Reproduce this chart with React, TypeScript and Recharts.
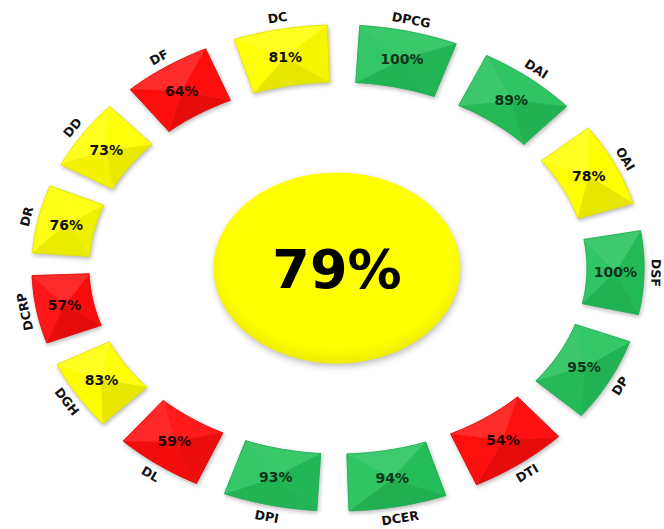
import React from 'react';
import { PieChart, Pie } from 'recharts';

// Scorecard ring: one tile per area, coloured by score, overall score in the middle
const categories = ['DPCG', 'DAI', 'OAI', 'DSF', 'DP', 'DTI', 'DCER', 'DPI', 'DL', 'DGH', 'DCRP', 'DR', 'DD', 'DF', 'DC'];
const scores = [100, 89, 78, 100, 95, 54, 94, 93, 59, 83, 57, 76, 73, 64, 81];
const slotWeights = [1, 1, 1, 1, 1, 1, 1, 1, 1, 1, 1, 1, 1, 1, 1];
const overallScore = 79;

const ringData = categories.map((name, i) => ({ name, score: scores[i], slot: slotWeights[i] }));
const overallData = [{ name: 'Overall', value: overallScore }];

const FONT = 'DejaVu Sans, Verdana, sans-serif';
const STRETCH = 63; // extra horizontal radius, turns the ring into an ellipse
const RAD = Math.PI / 180;

// slight angular skew, the tiles in the original sit a bit left of even spacing
const warp = (deg: number) => deg + 6 * Math.sin(deg * RAD);

const pt = (cx: number, cy: number, r: number, deg: number) => {
  const a = warp(deg) * RAD;
  return [cx + (r + STRETCH) * Math.cos(a), cy - r * Math.sin(a)];
};

const colorFor = (v: number) => (v >= 85 ? '#24c25b' : v >= 65 ? '#ffff00' : '#ff0d0d');
const textFor = (v: number) => (v >= 85 ? '#0d3518' : v >= 65 ? '#111' : '#2a0000');

const mix = (hex: string, target: number, t: number) => {
  const n = parseInt(hex.slice(1), 16);
  const ch = [(n >> 16) & 255, (n >> 8) & 255, n & 255].map((c) => Math.round(c + (target - c) * t));
  return `rgb(${ch[0]},${ch[1]},${ch[2]})`;
};

const shade = (hex: string, d: number) => (d >= 0 ? mix(hex, 255, 0.13 * d) : mix(hex, 0, -0.1 * d));

const poly = (pts: number[][]) => pts.map((p, i) => `${i ? 'L' : 'M'}${p[0].toFixed(1)},${p[1].toFixed(1)}`).join(' ') + ' Z';

function RingTile(props: any) {
  const { cx, cy, innerRadius, outerRadius, startAngle, endAngle, payload } = props;
  const N = 14;
  const outer: number[][] = [];
  const inner: number[][] = [];
  for (let k = 0; k <= N; k++) {
    const a = startAngle + ((endAngle - startAngle) * k) / N;
    outer.push(pt(cx, cy, outerRadius, a));
    inner.push(pt(cx, cy, innerRadius, a));
  }
  const mid = (startAngle + endAngle) / 2;
  const c = pt(cx, cy, (innerRadius + outerRadius) / 2, mid);
  const base = colorFor(payload.score);

  // bevel facets, lit from the upper left
  const L = [-0.45, -0.89];
  const facets = [
    [...outer, c],
    [...inner, c],
    [outer[0], inner[0], c],
    [outer[N], inner[N], c],
  ].map((f) => {
    const edge = f.slice(0, -1);
    const ex = edge.reduce((s, p) => s + p[0], 0) / edge.length;
    const ey = edge.reduce((s, p) => s + p[1], 0) / edge.length;
    const len = Math.hypot(ex - c[0], ey - c[1]) || 1;
    const d = ((ex - c[0]) * L[0] + (ey - c[1]) * L[1]) / len;
    return { d: poly(f), fill: shade(base, d) };
  });
  const outline = poly([...outer, ...inner.slice().reverse()]);

  // category name just outside the tile, following the ring
  const lr = outerRadius + 12;
  const lp = pt(cx, cy, lr, mid);
  const th = warp(mid) * RAD;
  let tx = (lr + STRETCH) * Math.sin(th);
  let ty = lr * Math.cos(th);
  if (Math.sin(th) < -0.3) {
    tx = -tx;
    ty = -ty;
  }
  const rot = (Math.atan2(ty, tx) * 180) / Math.PI;

  return (
    <g>
      <g style={{ filter: 'drop-shadow(1px 2px 2px rgba(0,0,0,0.28))' }}>
        {facets.map((f, i) => (
          <path key={i} d={f.d} fill={f.fill} stroke={f.fill} strokeWidth={0.6} />
        ))}
        <path d={outline} fill="none" stroke={mix(base, 0, 0.12)} strokeWidth={0.8} />
      </g>
      <text x={c[0]} y={c[1]} textAnchor="middle" dominantBaseline="central" fontFamily={FONT} fontWeight="bold" fontSize={14} fill={textFor(payload.score)}>
        {payload.score}%
      </text>
      <text
        x={lp[0]}
        y={lp[1]}
        textAnchor="middle"
        dominantBaseline="central"
        fontFamily={FONT}
        fontWeight="bold"
        fontSize={12.5}
        fill="#111"
        transform={`rotate(${rot.toFixed(1)} ${lp[0].toFixed(1)} ${lp[1].toFixed(1)})`}
      >
        {payload.name}
      </text>
    </g>
  );
}

function OverallBadge(props: any) {
  const { cx, cy, outerRadius, payload } = props;
  return (
    <g>
      <defs>
        <radialGradient id="badgeFill" cx="50%" cy="45%" r="55%">
          <stop offset="0.85" stopColor="#ffff00" />
          <stop offset="1" stopColor="#eded00" />
        </radialGradient>
      </defs>
      <ellipse
        cx={cx}
        cy={cy}
        rx={outerRadius * 1.293}
        ry={outerRadius}
        fill="url(#badgeFill)"
        style={{ filter: 'drop-shadow(1px 3px 3px rgba(0,0,0,0.25))' }}
      />
      <text x={cx} y={cy + 1} textAnchor="middle" dominantBaseline="central" fontFamily={FONT} fontWeight="bold" fontSize={54} fill="#000">
        {payload.value}%
      </text>
    </g>
  );
}

export default function App() {
  return (
    <div style={{ position: 'absolute', left: 0, top: 0, width: 664, height: 529, background: '#fff' }}>
      <PieChart width={664} height={529} margin={{ top: 0, right: 0, bottom: 0, left: 0 }}>
        <Pie
          data={overallData}
          dataKey="value"
          cx={337}
          cy={268}
          innerRadius={0}
          outerRadius={95.5}
          startAngle={90}
          endAngle={-270}
          fill="none"
          stroke="none"
          label={OverallBadge}
          labelLine={false}
          isAnimationActive={false}
        />
        <Pie
          data={ringData}
          dataKey="slot"
          nameKey="name"
          cx={338}
          cy={268}
          innerRadius={186}
          outerRadius={243}
          startAngle={80}
          endAngle={-280}
          paddingAngle={6}
          fill="none"
          stroke="none"
          label={RingTile}
          labelLine={false}
          isAnimationActive={false}
        />
      </PieChart>
    </div>
  );
}
